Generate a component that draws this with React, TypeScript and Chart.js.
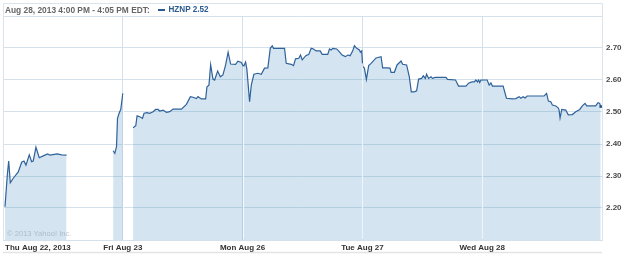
import React, { useEffect, useRef } from "react";
import { Chart, registerables } from "chart.js";

Chart.register(...registerables);

// ---- data ----
const headerText = "Aug 28, 2013 4:00 PM - 4:05 PM EDT:";
const seriesLabel = "HZNP 2.52";
const copyright = "\u00A9 2013 Yahoo! Inc.";

const dayLabels = ["Thu Aug 22, 2013", "Fri Aug 23", "Mon Aug 26", "Tue Aug 27", "Wed Aug 28"];
const dayStarts = [0, 1, 2, 3, 4];
const yTickValues = [2.1, 2.2, 2.3, 2.4, 2.5, 2.6, 2.7, 2.8];
const yLabelled = [2.2, 2.3, 2.4, 2.5, 2.6, 2.7];
const yMin = 2.1;
const yMax = 2.8;
const xMin = 0;
const xMax = 5;

// time in trading days since Thu open (each session = 1 unit); null price = no trades
const times = [
  0.0167, 0.036, 0.0475, 0.0608, 0.0858, 0.1275, 0.1558, 0.175, 0.1917, 0.2192,
  0.2392, 0.2525, 0.275, 0.3025, 0.3358, 0.3725, 0.3917, 0.4525, 0.4892, 0.5308,
  0.7,
  0.9192, 0.9333, 0.9475, 0.9558, 0.9692, 0.9833, 1.0,
  1.04,
  1.0858, 1.1083, 1.1192, 1.1417, 1.1642, 1.1775, 1.2025, 1.225, 1.2525, 1.275,
  1.2942, 1.3083, 1.3358, 1.3642, 1.3917, 1.4192, 1.4892, 1.5308, 1.5642, 1.5858,
  1.6142, 1.6275, 1.6558, 1.6917, 1.7025, 1.7192, 1.7333, 1.7525, 1.7667, 1.7917,
  1.8142, 1.8358, 1.8583, 1.8792, 1.9, 1.9417, 1.9608, 1.9892, 2.0083, 2.025,
  2.0358, 2.0583, 2.0725, 2.0942, 2.1275, 2.1558, 2.1833, 2.2108, 2.2308, 2.2475,
  2.2583, 2.35, 2.3642, 2.4058, 2.425, 2.4417, 2.4692, 2.4833, 2.4975, 2.5275,
  2.5525, 2.5725, 2.5917, 2.6142, 2.6475, 2.6642, 2.7108, 2.725, 2.7392, 2.7525,
  2.7858, 2.8083, 2.8308, 2.8583, 2.8775, 2.8975, 2.9192, 2.9333, 2.9525, 2.975,
  2.9833, 2.9942,
  3.0025, 3.0167, 3.0333, 3.0525, 3.0725, 3.1142, 3.1558, 3.1692, 3.2025, 3.2308,
  3.2392, 3.2667, 3.2892, 3.3225, 3.3358, 3.3692, 3.3917, 3.4083, 3.4333, 3.4525,
  3.4692, 3.4942, 3.5083, 3.525, 3.5358, 3.5525, 3.5725, 3.5858, 3.6083, 3.6975,
  3.7108, 3.7775, 3.8025, 3.8642, 3.8858, 3.9142, 3.9333, 3.9475, 3.9608, 3.9708,
  3.9792, 3.9892,
  4.0417, 4.0583, 4.0725, 4.0858, 4.175, 4.1833, 4.2025, 4.2525, 4.2808, 4.3083,
  4.3225, 4.3417, 4.3583, 4.375, 4.5167, 4.5375, 4.5525, 4.5725, 4.5858, 4.6142,
  4.6358, 4.6417, 4.65, 4.6642, 4.6975, 4.7183, 4.7525, 4.7808, 4.8142, 4.8358,
  4.8583, 4.8725, 4.9475, 4.9667, 4.9808, 4.9892,
];

const prices = [
  2.204, 2.303, 2.347, 2.279, 2.293, 2.313, 2.343, 2.347, 2.334, 2.366,
  2.345, 2.347, 2.39, 2.357, 2.363, 2.369, 2.365, 2.369, 2.366, 2.365,
  null,
  2.379, 2.371, 2.392, 2.48, 2.496, 2.509, 2.558,
  null,
  2.451, 2.457, 2.488, 2.485, 2.48, 2.496, 2.498, 2.496, 2.501, 2.508,
  2.508, 2.503, 2.506, 2.499, 2.501, 2.509, 2.509, 2.524, 2.548, 2.546,
  2.542, 2.548, 2.541, 2.541, 2.579, 2.584, 2.648, 2.603, 2.6, 2.628,
  2.61, 2.616, 2.647, 2.687, 2.65, 2.649, 2.659, 2.655, 2.642, 2.656,
  2.634, 2.532, 2.584, 2.618, 2.621, 2.618, 2.637, 2.638, 2.699, 2.707,
  2.699, 2.699, 2.652, 2.649, 2.645, 2.666, 2.668, 2.678, 2.663, 2.676,
  2.68, 2.699, 2.697, 2.691, 2.691, 2.68, 2.68, 2.697, 2.694, 2.699,
  2.697, 2.688, 2.678, 2.673, 2.678, 2.676, 2.691, 2.707, 2.699, 2.694,
  2.687, 2.691,
  2.642, 2.637, 2.602, 2.645, 2.652, 2.669, 2.673, 2.638, 2.638, 2.637,
  2.624, 2.624, 2.647, 2.659, 2.649, 2.647, 2.61, 2.563, 2.563, 2.566,
  2.603, 2.605, 2.613, 2.605, 2.618, 2.605, 2.61, 2.605, 2.608, 2.608,
  2.602, 2.6, 2.581, 2.581, 2.59, 2.594, 2.594, 2.6, 2.594, 2.6,
  2.592, 2.6,
  2.6, 2.584, 2.591, 2.581, 2.581, 2.569, 2.543, 2.541, 2.542, 2.548,
  2.543, 2.548, 2.544, 2.55, 2.55, 2.558, 2.534, 2.532, 2.522, 2.519,
  2.512, 2.506, 2.481, 2.508, 2.506, 2.491, 2.492, 2.501, 2.508, 2.519,
  2.527, 2.519, 2.519, 2.529, 2.527, 2.517,
];

// ---- styles ----
const LINE_COLOR = "#2f6299";
const FILL_COLOR = "rgba(70,140,195,0.23)";
const GRID_COLOR = "#d5e1ea";
const BOX_COLOR = "#dce4eb";
const FONT_FAMILY = '"Liberation Sans", Arial, sans-serif';

function priceAt(t: number): number | null {
  for (let i = 0; i < times.length - 1; i++) {
    if (times[i] <= t && t <= times[i + 1]) {
      const a = prices[i];
      const b = prices[i + 1];
      if (a == null || b == null) return null;
      return a + ((b - a) * (t - times[i])) / (times[i + 1] - times[i]);
    }
  }
  return null;
}

const decorPlugin = {
  id: "decor",
  afterDatasetsDraw(chart: any) {
    const { ctx, chartArea, scales } = chart;
    const xs = scales.x;
    const ys = scales.y;
    ctx.save();
    // lighter vertical grid lines inside the filled area
    ctx.strokeStyle = "rgba(255,255,255,0.8)";
    ctx.lineWidth = 1;
    for (let i = 1; i < dayStarts.length; i++) {
      const t = dayStarts[i];
      const p = priceAt(t);
      if (p == null) continue;
      const px = Math.round(xs.getPixelForValue(t)) + 0.5;
      const py = ys.getPixelForValue(p) + 1.5;
      ctx.beginPath();
      ctx.moveTo(px, py);
      ctx.lineTo(px, chartArea.bottom - 0.5);
      ctx.stroke();
    }
    ctx.restore();
  },
  afterDraw(chart: any) {
    const { ctx, chartArea, scales } = chart;
    const xs = scales.x;
    ctx.save();
    // outer frame
    ctx.strokeStyle = BOX_COLOR;
    ctx.lineWidth = 1;
    ctx.beginPath();
    ctx.moveTo(chartArea.left + 0.5, 3.5);
    ctx.lineTo(chartArea.right + 0.5, 3.5);
    ctx.moveTo(chartArea.left + 0.5, 3.5);
    ctx.lineTo(chartArea.left + 0.5, chartArea.bottom);
    ctx.moveTo(Math.round(chartArea.right) + 0.5, 3.5);
    ctx.lineTo(Math.round(chartArea.right) + 0.5, chartArea.bottom);
    ctx.stroke();
    // bottom separator
    ctx.strokeStyle = "#e4e4e4";
    ctx.lineWidth = 1.5;
    ctx.beginPath();
    ctx.moveTo(chartArea.left, 252.5);
    ctx.lineTo(chartArea.right, 252.5);
    ctx.stroke();
    // day labels
    ctx.font = "bold 8px " + FONT_FAMILY;
    ctx.fillStyle = "#333333";
    ctx.textBaseline = "alphabetic";
    dayLabels.forEach((lab, i) => {
      const px = xs.getPixelForValue(dayStarts[i]);
      if (i === 0) {
        ctx.textAlign = "left";
        ctx.fillText(lab, px + 2, 249.5);
      } else {
        ctx.textAlign = "center";
        ctx.fillText(lab, px, 249.5);
      }
    });
    ctx.restore();
  },
};

export default function App() {
  const canvasRef = useRef<HTMLCanvasElement | null>(null);

  useEffect(() => {
    if (!canvasRef.current) return;
    const data = times.map((t, i) => ({ x: t, y: prices[i] }));
    const last = data.length - 1;
    const chart = new Chart(canvasRef.current, {
      type: "line",
      data: {
        datasets: [
          {
            label: "HZNP",
            data: data as any,
            borderColor: LINE_COLOR,
            borderWidth: 1.2,
            backgroundColor: FILL_COLOR,
            fill: "start",
            spanGaps: false,
            tension: 0,
            pointRadius: (c: any) => (c.dataIndex === last ? 1.8 : 0),
            pointStyle: "rect",
            pointBackgroundColor: "#1f4f85",
            pointBorderWidth: 0,
            pointHoverRadius: 0,
          },
        ],
      },
      options: {
        animation: false,
        responsive: false,
        maintainAspectRatio: false,
        events: [],
        layout: { padding: { left: 3, top: 16, right: 0, bottom: 0 } },
        plugins: {
          legend: { display: false },
          tooltip: { enabled: false },
          title: { display: false },
        },
        scales: {
          x: {
            type: "linear",
            min: xMin,
            max: xMax,
            afterBuildTicks: (s: any) => {
              s.ticks = dayStarts.slice(1).map((v) => ({ value: v }));
            },
            afterFit: (s: any) => {
              s.height = 15;
              s.paddingLeft = 0;
              s.paddingRight = 0;
            },
            ticks: { display: false },
            grid: { color: GRID_COLOR, drawTicks: false, lineWidth: 1 },
            border: { display: true, color: GRID_COLOR },
          },
          y: {
            type: "linear",
            position: "right",
            min: yMin,
            max: yMax,
            afterBuildTicks: (s: any) => {
              s.ticks = yTickValues.map((v) => ({ value: v }));
            },
            afterFit: (s: any) => {
              s.width = 23;
              s.paddingTop = 0;
              s.paddingBottom = 0;
            },
            ticks: {
              padding: 4,
              color: "#4a4a4a",
              font: { family: FONT_FAMILY, size: 8, weight: "bold" },
              callback: (v: any) => {
                const n = Number(v);
                return yLabelled.some((t) => Math.abs(t - n) < 1e-6) ? n.toFixed(2) : "";
              },
            },
            grid: { color: GRID_COLOR, drawTicks: false, lineWidth: 1 },
            border: { display: true, color: GRID_COLOR },
          },
        },
      },
      plugins: [decorPlugin],
    } as any);
    return () => chart.destroy();
  }, []);

  return (
    <div style={{ position: "absolute", left: 0, top: 0, width: 625, height: 255, background: "#fff" }}>
      <canvas ref={canvasRef} width={625} height={255} style={{ display: "block", width: 625, height: 255 }} />
      <div
        style={{
          position: "absolute",
          left: 5,
          top: 4.6,
          fontFamily: FONT_FAMILY,
          fontWeight: "bold",
          fontSize: 8.35,
          lineHeight: "10px",
          color: "#666666",
          whiteSpace: "nowrap",
        }}
      >
        {headerText}
      </div>
      <div
        style={{
          position: "absolute",
          left: 158,
          top: 8.7,
          width: 7,
          height: 2.6,
          background: "#2a5a8f",
        }}
      />
      <div
        style={{
          position: "absolute",
          left: 168.5,
          top: 4.6,
          fontFamily: FONT_FAMILY,
          fontWeight: "bold",
          fontSize: 8.15,
          lineHeight: "10px",
          color: "#2a5a8f",
          whiteSpace: "nowrap",
        }}
      >
        {seriesLabel}
      </div>
      <div
        style={{
          position: "absolute",
          left: 7,
          top: 228.5,
          fontFamily: FONT_FAMILY,
          fontSize: 7.6,
          lineHeight: "10px",
          color: "rgba(140,155,170,0.55)",
          whiteSpace: "nowrap",
        }}
      >
        {copyright}
      </div>
    </div>
  );
}
